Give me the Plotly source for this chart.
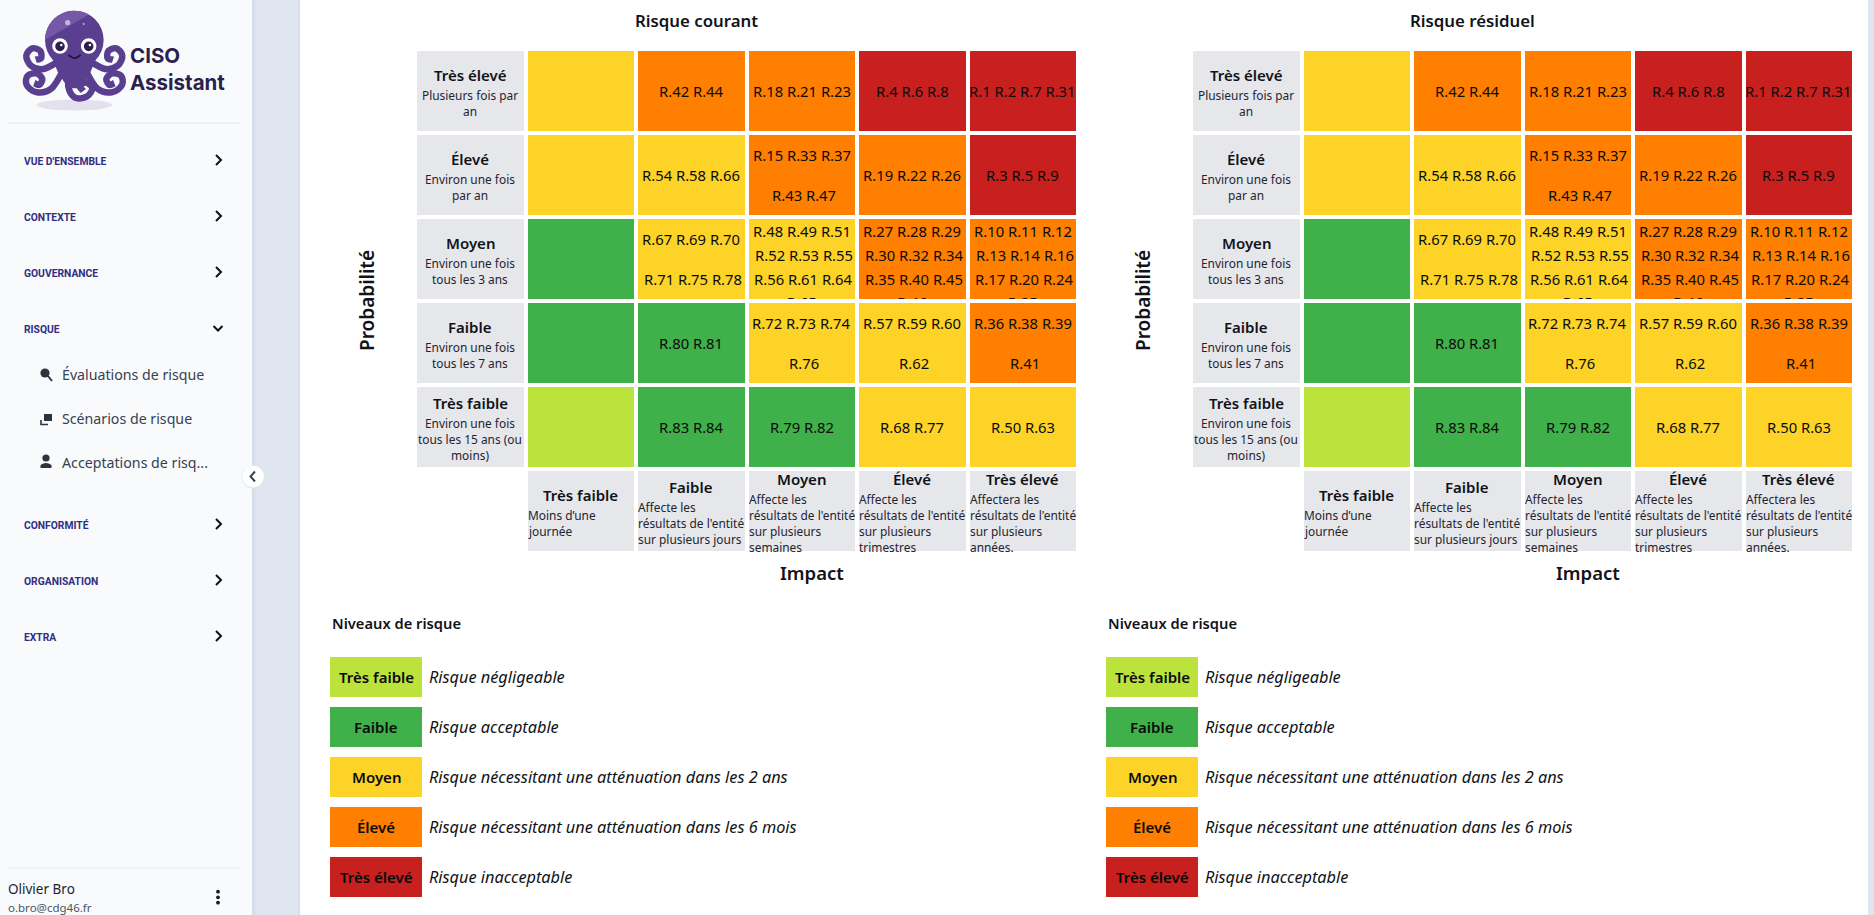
import math
import plotly.graph_objects as go

W, H = 1874, 915
FONT = "Noto Sans"

# ---------- data ----------
matrix_titles = ["Risque courant", "Risque résiduel"]
prob_titles = ["Très élevé", "Élevé", "Moyen", "Faible", "Très faible"]
prob_descriptions = [
    ["Plusieurs fois par", "an"],
    ["Environ une fois", "par an"],
    ["Environ une fois", "tous les 3 ans"],
    ["Environ une fois", "tous les 7 ans"],
    ["Environ une fois", "tous les 15 ans (ou", "moins)"],
]
impact_titles = ["Très faible", "Faible", "Moyen", "Élevé", "Très élevé"]
impact_descriptions = [
    ["Moins d’une", "journée"],
    ["Affecte les", "résultats de l'entité", "sur plusieurs jours"],
    ["Affecte les", "résultats de l'entité", "sur plusieurs", "semaines"],
    ["Affecte les", "résultats de l'entité", "sur plusieurs", "trimestres"],
    ["Affectera les", "résultats de l'entité", "sur plusieurs", "années."],
]
risk_levels = [
    [3, 4, 4, 5, 5],
    [3, 3, 4, 4, 5],
    [2, 3, 3, 4, 4],
    [2, 2, 3, 3, 4],
    [1, 2, 2, 3, 3],
]
risk_ids = [
    [[], ["R.42 R.44"], ["R.18 R.21 R.23"], ["R.4 R.6 R.8"], ["R.1 R.2 R.7 R.31"]],
    [[], ["R.54 R.58 R.66"], ["R.15 R.33 R.37", "R.43 R.47"], ["R.19 R.22 R.26"], ["R.3 R.5 R.9"]],
    [[], ["R.67 R.69 R.70", "R.71 R.75 R.78"],
     ["R.48 R.49 R.51", "R.52 R.53 R.55", "R.56 R.61 R.64", "R.65"],
     ["R.27 R.28 R.29", "R.30 R.32 R.34", "R.35 R.40 R.45", "R.46"],
     ["R.10 R.11 R.12", "R.13 R.14 R.16", "R.17 R.20 R.24", "R.25"]],
    [[], ["R.80 R.81"], ["R.72 R.73 R.74", "R.76"], ["R.57 R.59 R.60", "R.62"], ["R.36 R.38 R.39", "R.41"]],
    [[], ["R.83 R.84"], ["R.79 R.82"], ["R.68 R.77"], ["R.50 R.63"]],
]
level_names = ["Très faible", "Faible", "Moyen", "Élevé", "Très élevé"]
level_descriptions = [
    "Risque négligeable",
    "Risque acceptable",
    "Risque nécessitant une atténuation dans les 2 ans",
    "Risque nécessitant une atténuation dans les 6 mois",
    "Risque inacceptable",
]
level_values = [1, 2, 3, 4, 5]
level_colors = ["#E5E7EB", "#BBE33C", "#3FB04A", "#FED328", "#FF7F00", "#C8201E"]
nav_top = [("VUE D'ENSEMBLE", 161), ("CONTEXTE", 217), ("GOUVERNANCE", 273), ("RISQUE", 329),
           ("CONFORMITÉ", 525), ("ORGANISATION", 581), ("EXTRA", 637)]
nav_sub = [("Évaluations de risque", 374), ("Scénarios de risque", 418), ("Acceptations de risq...", 462)]

# ---------- layout helpers ----------
INK = "#111318"
colorscale = []
for i, c in enumerate(level_colors):
    colorscale += [[i / 6, c], [(i + 1) / 6, c]]

fig = go.Figure()
annotations, shapes = [], []
layout = {}


def dom_x(a, b):
    return [a / W, b / W]


def dom_y(top, bottom):
    return [1 - bottom / H, 1 - top / H]


def hidden(**kw):
    d = dict(visible=False, fixedrange=True)
    d.update(kw)
    return d


def note(text, x, y, xref, yref, size=14, color=INK, weight=None, style=None, xanchor="center",
         xshift=0, yshift=0, angle=0, family=FONT):
    f = dict(family=family, size=size, color=color)
    if weight:
        f["weight"] = weight
    if style:
        f["style"] = style
    annotations.append(dict(text=text, x=x, y=y, xref=xref, yref=yref, showarrow=False, font=f,
                            xanchor=xanchor, yanchor="middle", xshift=xshift, yshift=yshift,
                            textangle=angle, borderpad=0, borderwidth=0))


def page(text, x, y, **kw):
    note(text, x, y, "x7", "y7", **kw)


def rect(x0, y0, x1, y1, fill, layer="below"):
    shapes.append(dict(type="rect", xref="x7", yref="y7", x0=x0, y0=y0, x1=x1, y1=y1,
                       fillcolor=fill, line_width=0, layer=layer))


def circle(cx, cy, r, fill, layer="below", line=None, ry=None):
    ry = r if ry is None else ry
    d = dict(type="circle", xref="x7", yref="y7", x0=cx - r, x1=cx + r, y0=cy - ry, y1=cy + ry,
             fillcolor=fill, layer=layer, line_width=0)
    if line:
        d["line"] = dict(color=line, width=1)
    shapes.append(d)


def path(d, color=None, width=0, fill=None, layer="below"):
    s = dict(type="path", xref="x7", yref="y7", path=d, layer=layer)
    s["line"] = dict(color=color, width=width) if color else dict(width=0)
    s["fillcolor"] = fill if fill else "rgba(0,0,0,0)"
    shapes.append(s)


# ---------- page furniture ----------
layout["xaxis7"] = hidden(domain=[0, 1], range=[0, W], anchor="y7")
layout["yaxis7"] = hidden(domain=[0, 1], range=[H, 0], anchor="x7")
fig.add_trace(go.Scatter(x=[None], y=[None], xaxis="x7", yaxis="y7", showlegend=False, hoverinfo="skip"))

rect(0, 0, 252, H, "#F9FAFC")
rect(252, 0, 300, H, "#DFE6F0")
rect(252, 0, 254, H, "#D5DCE8")
rect(254, 0, 256, H, "#DBE2ED")
rect(298, 0, 300, H, "#D8DFEA")
rect(1868, 0, W, H, "#DFE6F0")
rect(8, 122.5, 240, 123.5, "#E5E7EB")
rect(8, 867.5, 240, 868.5, "#E5E7EB")


# logo (zoom-space coordinates of the octopus, converted to page pixels)
def lx(v):
    return 15 + v / 3


def ly(v):
    return 5 + v / 3


def curve(points):
    pts = [(lx(a), ly(b)) for a, b in points]
    d = f"M{pts[0][0]:.1f},{pts[0][1]:.1f}"
    for i in range(len(pts) - 1):
        p0 = pts[max(i - 1, 0)]
        p1 = pts[i]
        p2 = pts[i + 1]
        p3 = pts[min(i + 2, len(pts) - 1)]
        c1 = (p1[0] + (p2[0] - p0[0]) / 6, p1[1] + (p2[1] - p0[1]) / 6)
        c2 = (p2[0] - (p3[0] - p1[0]) / 6, p2[1] - (p3[1] - p1[1]) / 6)
        d += f" C{c1[0]:.1f},{c1[1]:.1f} {c2[0]:.1f},{c2[1]:.1f} {p2[0]:.1f},{p2[1]:.1f}"
    return d


PURPLE = "#5A3E90"
circle(lx(178), ly(300), 38, "#E3E1EE", ry=5.5)
tent_left = [
    [(130, 170), (85, 192), (48, 182), (34, 152), (52, 130), (76, 138), (78, 160), (62, 164)],
    [(145, 195), (110, 250), (65, 262), (35, 240), (38, 212), (65, 205), (82, 222), (72, 240), (58, 234)],
]
tent_mid = [(165, 200), (160, 245), (180, 278), (215, 275), (232, 250), (212, 232), (195, 245), (205, 258)]
for t in tent_left:
    path(curve(t), PURPLE, 6.5)
    path(curve([(356 - a, b) for a, b in t]), PURPLE, 6.5)
path(curve(tent_mid), PURPLE, 6.5)
path(f"M{lx(92):.1f},{ly(110):.1f} L{lx(264):.1f},{ly(110):.1f} L{lx(225):.1f},{ly(205):.1f} "
     f"L{lx(195):.1f},{ly(250):.1f} L{lx(160):.1f},{ly(250):.1f} L{lx(130):.1f},{ly(205):.1f} Z",
     fill=PURPLE)
circle(lx(178), ly(105), 29.3, PURPLE)
arc = [(lx(178) + 29.3 * math.cos(math.radians(a)), ly(105) + 29.3 * math.sin(math.radians(a)))
       for a in range(180, 308, 8)]
path("M" + " L".join(f"{a:.1f},{b:.1f}" for a, b in arc) + " Z", fill="#7558A6")
circle(lx(158), ly(53), 2.6, "#C3B4DC")
circle(lx(206), ly(57), 1, "#C3B4DC")
for ex in (135, 221):
    circle(lx(ex), ly(123), 7.8, "#FFFFFF")
    circle(lx(ex), ly(124), 4.8, "#2A1F4E")
    circle(lx(ex) + 1.3, ly(120), 1.3, "#FFFFFF")
path(curve([(160, 150), (178, 160), (197, 150)]), "#1D1438", 1.6)
page("CISO", 130, 55, size=20.5, color="#2A1F4E", weight=700, xanchor="left", family="Inter")
page("Assistant", 130, 82, size=20.5, color="#2A1F4E", weight=700, xanchor="left", family="Inter")

# navigation
for label, y in nav_top:
    page(label, 24, y + 0.5, size=10.3, color="#312E81", weight=700, xanchor="left", family="Roboto")
    if label == "RISQUE":
        path(f"M213.5,326 L218,330.5 L222.5,326", "#111111", 2)
    else:
        path(f"M216,{y - 6} L221,{y - 1} L216,{y + 4}", "#111111", 2)
for label, y in nav_sub:
    page(label, 62, y, size=14.2, color="#374151", xanchor="left")
circle(45, 373, 4.6, "#2F3340")
path("M48,376 L52,381", "#2F3340", 2)
rect(44, 414, 52, 421, "#2F3340")
path("M41,420 L41,424.5 L48,424.5", "#2F3340", 1.6)
circle(46, 458, 3.6, "#2F3340")
path("M40.5,468 L40.5,465 Q46,461 51.5,465 L51.5,468 Z", fill="#2F3340")
circle(253, 477, 11.5, "#E2E6EE")
circle(253, 476.5, 10.8, "#FFFFFF")
path("M255,471.5 L250.5,476.5 L255,481.5", "#3F4650", 2)

page("Olivier Bro", 8, 889, size=13.5, color="#1F2430", xanchor="left")
page("o.bro@cdg46.fr", 8, 907, size=11.5, color="#4B5563", xanchor="left")
for dy in (891.7, 897.3, 902.7):
    circle(218, dy, 1.9, "#1A1A1A")

# ---------- risk matrices ----------
GRID_X0, GRID_X1, GRID_Y0, GRID_Y1 = 415, 1078, 49, 553
ROW_H = (GRID_Y1 - GRID_Y0) / 6
COL_W = (GRID_X1 - GRID_X0) / 6
CELL_FS, SUB_FS, TITLE_FS = 14.8, 11.9, 15


def cell_offsets(n):
    if n == 1:
        return [0]
    if n == 2:
        return [-20, 20]
    return [-28 + 24 * k for k in range(n)]


for m, offset in enumerate((0, 776)):
    xa, ya = ("x", "y") if m == 0 else ("x3", "y3")
    xo, yo = ("x2", "y2") if m == 0 else ("x4", "y4")
    key = "" if m == 0 else "3"
    okey = "2" if m == 0 else "4"
    dx = dom_x(GRID_X0 + offset, GRID_X1 + offset)
    layout["xaxis" + key] = hidden(domain=dx, range=[-0.5, 5.5], anchor=ya)
    layout["yaxis" + key] = hidden(domain=dom_y(GRID_Y0, GRID_Y1), range=[5.5, -0.5], anchor=xa)
    # clip window of the "Moyen" row, so that the overflowing line is cut like the reference
    half = (ROW_H / 2 - 2) / ROW_H
    layout["xaxis" + okey] = hidden(domain=dx, range=[-0.5, 5.5], anchor=yo)
    layout["yaxis" + okey] = hidden(domain=dom_y(219, 299), range=[2 + half, 2 - half], anchor=xo)

    z = [[0] + row for row in risk_levels] + [[None, 0, 0, 0, 0, 0]]
    fig.add_trace(go.Heatmap(z=z, x=list(range(6)), y=list(range(6)), xaxis=xa, yaxis=ya, zmin=0, zmax=6,
                             colorscale=colorscale, showscale=False, xgap=4, ygap=4, hoverinfo="skip"))

    note(matrix_titles[m], 696 + offset, 20, "x7", "y7", size=16.8, weight=600)
    note("Probabilité", 367 + offset, 301, "x7", "y7", size=19, weight=600, angle=-90)
    note("Impact", 812 + offset, 572, "x7", "y7", size=18.5, weight=600)

    # probability labels
    for r, (t, lines) in enumerate(zip(prob_titles, prob_descriptions)):
        top = -(24 + 16 * len(lines)) / 2
        note(t, 0, r, xa, ya, size=TITLE_FS, weight=600, yshift=-(top + 12))
        for k, line in enumerate(lines):
            note(line, 0, r, xa, ya, size=SUB_FS, color="#1F2430", yshift=-(top + 32 + 16 * k))
    # impact labels
    for c, (t, lines) in enumerate(zip(impact_titles, impact_descriptions)):
        top = -(24 + 16 * len(lines)) / 2
        note(t, c + 1, 5, xa, ya, size=TITLE_FS, weight=600, yshift=-(top + 12))
        for k, line in enumerate(lines):
            note(line, c + 1, 5, xa, ya, size=SUB_FS, color="#1F2430", xanchor="left",
                 xshift=-COL_W / 2 + 2, yshift=-(top + 32 + 16 * k))
    # risk identifiers
    clip_x, clip_y, clip_t = [], [], []
    for r, row in enumerate(risk_ids):
        for c, lines in enumerate(row):
            offs = cell_offsets(len(lines))
            for k, line in enumerate(lines):
                if abs(offs[k]) > 40:
                    clip_x.append(c + 1)
                    clip_y.append(r + (offs[k] + 1.2) / ROW_H)
                    clip_t.append(line)
                    continue
                note(line, c + 1, r, xa, ya, size=CELL_FS, color="#0B0B0B",
                     xshift=2 if k > 0 else 0, yshift=-offs[k])
    fig.add_trace(go.Scatter(x=clip_x, y=clip_y, text=clip_t, mode="text", xaxis=xo, yaxis=yo,
                             textposition="middle center", cliponaxis=True, showlegend=False,
                             hoverinfo="skip",
                             textfont=dict(family=FONT, size=CELL_FS, color="#0B0B0B")))

    # legend
    lx_key = "5" if m == 0 else "6"
    lxa, lya = "x" + lx_key, "y" + lx_key
    layout["xaxis" + lx_key] = hidden(domain=dom_x(330 + offset, 422 + offset), range=[-0.5, 0.5], anchor=lya)
    layout["yaxis" + lx_key] = hidden(domain=dom_y(652, 902), range=[4.5, -0.5], anchor=lxa)
    fig.add_trace(go.Heatmap(z=[[v] for v in level_values], x=[0], y=list(range(5)), xaxis=lxa, yaxis=lya,
                             zmin=0, zmax=6, colorscale=colorscale, showscale=False, ygap=10, hoverinfo="skip"))
    note("Niveaux de risque", 332 + offset, 623, "x7", "y7", size=14.7, weight=600, xanchor="left")
    for i, (name, desc) in enumerate(zip(level_names, level_descriptions)):
        note(name, 0, i, lxa, lya, size=15, weight=600, color="#0B0B0B")
        note(desc, 0.5, i, lxa, lya, size=16.3, style="italic", xanchor="left", xshift=6.5)

fig.update_layout(width=W, height=H, margin=dict(l=0, r=0, t=0, b=0), autosize=False,
                  paper_bgcolor="#FFFFFF", plot_bgcolor="rgba(0,0,0,0)", showlegend=False,
                  annotations=annotations, shapes=shapes, hovermode=False, **layout)
fig.write_html("out.html", config={"displayModeBar": False},
               post_script="document.body.style.margin='0';document.body.style.overflow='hidden';")
